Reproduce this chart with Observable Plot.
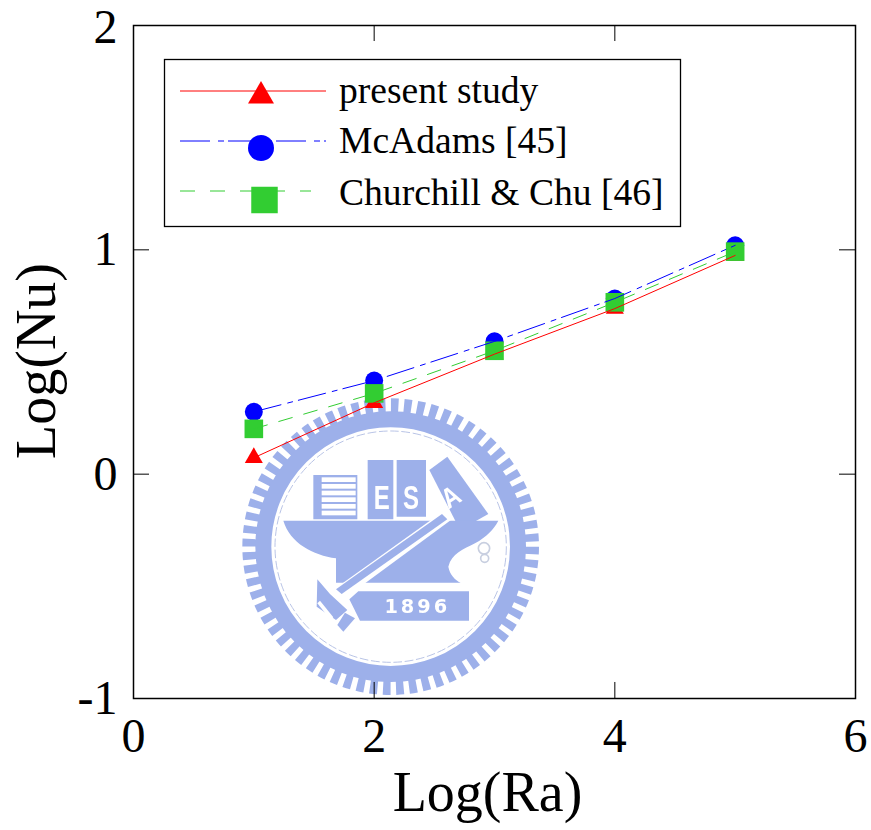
<!DOCTYPE html>
<html>
<head>
<meta charset="utf-8">
<style>
html,body{margin:0;padding:0;background:#fff}
svg{display:block}
</style>
<script src="https://cdn.jsdelivr.net/npm/d3@7"></script>
<script src="https://cdn.jsdelivr.net/npm/@observablehq/plot@0.6"></script>
</head>
<body>
<div id="chart"></div>
<script>
const logRa = [1, 2, 3, 4, 5];
const presentStudy = [0.073, 0.318, 0.535, 0.738, 0.975];
const mcAdams = [0.278, 0.417, 0.592, 0.783, 1.02];
const churchillChu = [0.202, 0.36, 0.55, 0.766, 0.992];
const xTicks = [0, 2, 4, 6];
const yTicks = [-1, 0, 1, 2];
const seriesNames = ["present study", "McAdams [45]", "Churchill & Chu [46]"];
const seriesColors = ["#ff0000", "#0000ff", "#32cd32"];

const FONT = "'Liberation Serif', 'Times New Roman', serif";
const rows = v => logRa.map((x, i) => ({x, y: v[i]}));
const NS = "http://www.w3.org/2000/svg";

function watermark() {
  const c = "#9db0ea";
  const g = d3.select(document.createElementNS(NS, "g"))
    .attr("transform", "translate(230,390) scale(0.33333)")
    .style("filter", "blur(0.6px)");
  const cx = 482, cy = 470;
  const teethCirc = 2 * Math.PI * 422;
  const n = 68;
  g.append("circle").attr("cx", cx).attr("cy", cy).attr("r", 422).attr("fill", "none").attr("stroke", c)
    .attr("stroke-width", 46).attr("stroke-dasharray", `${teethCirc / n * 0.58} ${teethCirc / n * 0.42}`);
  g.append("circle").attr("cx", cx).attr("cy", cy).attr("r", 382).attr("fill", "none").attr("stroke", c).attr("stroke-width", 48);
  g.append("circle").attr("cx", cx).attr("cy", cy).attr("r", 347).attr("fill", "none").attr("stroke", "#b9c4e6")
    .attr("stroke-width", 3).attr("stroke-dasharray", "26 8");
  const P = d => g.append("path").attr("d", d).attr("fill", c);
  const W = d => g.append("path").attr("d", d).attr("fill", "#fff");
  // books
  P("M250 255H382V388H250Z");
  for (const y of [262, 282, 302, 322, 342, 362]) g.append("rect").attr("x", 275).attr("y", y).attr("width", 102).attr("height", 14).attr("fill", "#fff");
  P("M413 210H490V388H413Z");
  P("M500 210H588V380H500Z");
  P("M598 240L652 200L775 372L690 420Z");
  // anvil
  P("M160 392H805C790 420 770 440 735 460C700 478 665 490 655 530C660 555 675 570 692 578H318V505C250 495 180 460 160 392Z");
  W("M420 580H314V602L340 634Z");
  // hammer handle
  W("M645 360L668 386L340 628L305 603Z");
  P("M636 372L652 388L335 612L318 598Z");
  // hammer head
  P("M262 568L300 612L352 660L318 690L260 650Z");
  P("M345 668L375 685L340 725L322 705Z");
  W("M262 640L302 690L310 682L270 632Z");
  // plaque
  P("M385 604H717V692H390L358 628Z");
  g.append("text").attr("x", 562).attr("y", 668).attr("text-anchor", "middle")
    .attr("font-family", "'DejaVu Sans', sans-serif").attr("font-weight", "bold").attr("font-size", 58)
    .attr("letter-spacing", 9).attr("fill", "#fff").text("1896");
  for (const [t, x, y, rot, s, sx] of [["E", 455, 358, 0, 100, 0.72], ["S", 543, 358, 0, 100, 0.72], ["A", 677, 345, -32, 84, 0.85]]) {
    g.append("text").attr("transform", `translate(${x},${y}) rotate(${rot}) scale(${sx},1)`).attr("text-anchor", "middle")
      .attr("font-family", "'Liberation Sans', sans-serif").attr("font-weight", "bold").attr("font-size", s)
      .attr("fill", "#fff").text(t);
  }
  // small chain at the anvil's side
  g.append("circle").attr("cx", 762).attr("cy", 475).attr("r", 17).attr("fill", "none").attr("stroke", "#c8cfe0").attr("stroke-width", 5);
  g.append("circle").attr("cx", 764).attr("cy", 505).attr("r", 12).attr("fill", "none").attr("stroke", "#c8cfe0").attr("stroke-width", 5);
  return g.node();
}

function legend() {
  const g = d3.select(document.createElementNS(NS, "g"));
  g.append("rect").attr("x", 164.5).attr("y", 59.5).attr("width", 516).attr("height", 167)
    .attr("fill", "none").attr("stroke", "#000").attr("stroke-width", 1.3);
  const lineY = [91, 141, 191];
  const markX = [261, 261, 264.5];
  const markY = [96, 148, 200];
  const textY = [103, 153, 205];
  const dashes = [null, "30 8 6 4", "15 15"];
  const lineEnd = [326, 326, 311];
  const syms = [d3.symbolTriangle, d3.symbolCircle, d3.symbolSquare];
  const sizes = [292, 531, 702];
  seriesNames.forEach((name, i) => {
    g.append("line").attr("x1", 180).attr("x2", lineEnd[i]).attr("y1", lineY[i]).attr("y2", lineY[i])
      .attr("stroke", seriesColors[i]).attr("stroke-width", 1).attr("stroke-dasharray", dashes[i]);
    g.append("path").attr("d", d3.symbol(syms[i], sizes[i])()).attr("transform", `translate(${markX[i]},${markY[i]})`).attr("fill", seriesColors[i]);
    g.append("text").attr("x", 339).attr("y", textY[i]).attr("text-anchor", "start")
      .attr("font-family", FONT).attr("font-size", 37.6).attr("fill", "#000").text(name);
  });
  return g.node();
}

const plot = Plot.plot({
  width: 871,
  height: 830,
  marginLeft: 133,
  marginRight: 16,
  marginTop: 25,
  marginBottom: 132,
  style: {fontFamily: FONT, background: "#fff", color: "#000"},
  x: {domain: [0, 6], axis: null},
  y: {domain: [-1, 2], axis: null},
  marks: [
    watermark,
    Plot.dot(rows(presentStudy), {x: "x", y: "y", symbol: "triangle", r: 6.7, fill: seriesColors[0]}),
    Plot.dot(rows(mcAdams), {x: "x", y: "y", symbol: "circle", r: 9, fill: seriesColors[1]}),
    Plot.dot(rows(churchillChu), {x: "x", y: "y", symbol: "square", r: 10.5, fill: seriesColors[2]}),
    Plot.line(rows(churchillChu), {x: "x", y: "y", stroke: seriesColors[2], strokeWidth: 1, strokeDasharray: "14 12"}),
    Plot.line(rows(mcAdams), {x: "x", y: "y", stroke: seriesColors[1], strokeWidth: 1, strokeDasharray: "28 7 5 6"}),
    Plot.line(rows(presentStudy), {x: "x", y: "y", stroke: seriesColors[0], strokeWidth: 1}),
    Plot.ruleX(xTicks, {x: d => d, y1: -1, y2: -1 + 16 / 224, stroke: "#000", strokeWidth: 1}),
    Plot.ruleX(xTicks, {x: d => d, y1: 2, y2: 2 - 16 / 224, stroke: "#000", strokeWidth: 1}),
    Plot.ruleY(yTicks, {y: d => d, x1: 0, x2: 16 * 6 / 722, stroke: "#000", strokeWidth: 1}),
    Plot.ruleY(yTicks, {y: d => d, x1: 6, x2: 6 - 16 * 6 / 722, stroke: "#000", strokeWidth: 1}),
    Plot.axisX({ticks: xTicks, tickSize: 0, tickPadding: 19, fontSize: 48, label: null, tickFormat: String}),
    Plot.axisY({ticks: yTicks.slice(0, 3), tickSize: 0, tickPadding: 16, fontSize: 48, label: null, tickFormat: String}),
    Plot.axisY({ticks: yTicks.slice(3), tickSize: 0, tickPadding: 16, fontSize: 48, dy: 2, label: null, tickFormat: String}),
    Plot.frame({stroke: "#000", strokeWidth: 1.5}),
    legend,
    Plot.text(["Log(Ra)"], {frameAnchor: "bottom", dx: -7, dy: 112, lineAnchor: "bottom", fontSize: 56, fill: "#000"}),
    Plot.text(["Log(Nu)"], {frameAnchor: "left", dx: -79, dy: -1, rotate: -90, textAnchor: "middle", lineAnchor: "bottom", fontSize: 56, fill: "#000"})
  ]
});
document.getElementById("chart").append(plot);
</script>
</body>
</html>
